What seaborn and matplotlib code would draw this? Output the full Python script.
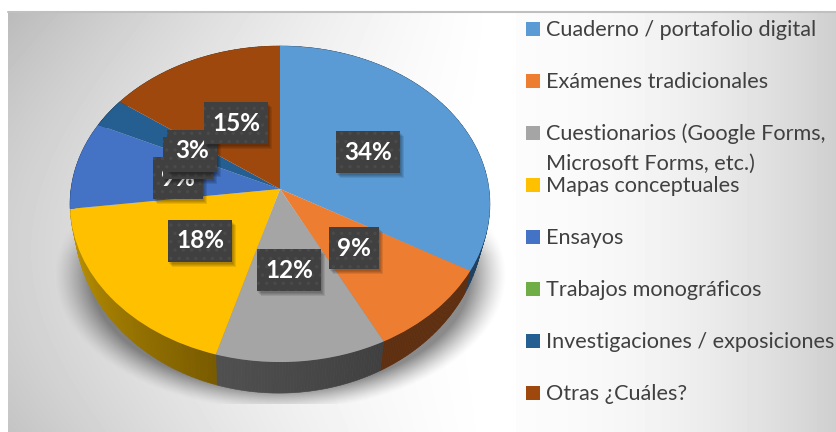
# coding: utf-8
import numpy as np
import seaborn as sns
import matplotlib.pyplot as plt
from matplotlib.patches import Rectangle
from matplotlib.transforms import Transform
from matplotlib.colors import to_rgb

categories = ["Cuaderno / portafolio digital", "Exámenes tradicionales",
              "Cuestionarios (Google Forms,\nMicrosoft Forms, etc.)", "Mapas conceptuales",
              "Ensayos", "Trabajos monográficos", "Investigaciones / exposiciones", "Otras ¿Cuáles?"]
# printed percentages, and the slice sizes as measured on the drawn disc
percents = [34, 9, 12, 18, 9, 0, 3, 15]
shares = [33.3, 9.2, 12.0, 18.5, 9, 0, 3, 15]
colors = ["#5B9BD5", "#ED7D31", "#A5A5A5", "#FFC000", "#4472C4", "#70AD47", "#255E91", "#9E480E"]
wall_left = ["#1F3F5F", "#5F2F10", "#505050", "#C89A00", "#2A4A80", "#466C2C", "#163A5A", "#5F2C08"]
wall_right = ["#1F3F5F", "#5F2F10", "#404040", "#7A5C00", "#2A4A80", "#466C2C", "#163A5A", "#5F2C08"]

# label box centres, in the picture's pixels
label_x = [368, 354, 289, 200, 178, 188, 192, 236]
label_y = [152, 247.5, 269.5, 240.5, 178, 158, 150.5, 123]
label_w = [64, 50, 64, 64, 50, 50, 50, 64]
legend_y = [29, 81, 133, 185, 237, 289, 341, 393]

sns.set_theme(style="white")
plt.rcParams["font.family"] = ["Lato", "DejaVu Sans"]
plt.rcParams["hatch.linewidth"] = 1.2


def project(X, Y):
    # tilted disc seen in perspective, the near edge is bigger
    d = 1 + 0.095 * Y
    return 280 + 209 * X / d, 189 - 156.6 * Y / d


def lower(x, y):
    return 279 + 0.975 * (x - 280), 205 + 1.087 * (y - 189)


class Tilt(Transform):
    input_dims = 2
    output_dims = 2

    def transform_non_affine(self, values):
        x, y = project(values[:, 0], values[:, 1])
        return np.column_stack([x, y])


fig = plt.figure(figsize=(8.37, 4.32), dpi=100)
ax = fig.add_axes([0, 0, 1, 1])

# background, white in the middle and a small step at x=516
xx, yy = np.meshgrid(np.arange(8, 837), np.arange(12, 432))
xl = np.clip((500 - xx) / 490.0, 0, 1)
xr = np.clip((xx - 516) / 321.0, 0, 1)
bg = 1 - 0.18 * xl ** 1.6 - 0.05 * xl * (np.abs(yy - 250) / 180.0) ** 2
bg = np.where(xx >= 516, 0.985 - 0.175 * xr ** 2.0, bg)
ax.imshow(bg, cmap="gray", vmin=0, vmax=1, extent=(8, 837, 432, 12), zorder=0, aspect="auto")
ax.plot([8, 837], [11.5, 11.5], color="#C0C0C0", lw=1.5, zorder=1)

# soft shadow under the disc, cut hard at the bottom
sx, sy = np.meshgrid(np.arange(40, 525), np.arange(190, 404))
d = np.sqrt(((sx - 280) / 226.0) ** 2 + ((sy - 275) / 135.0) ** 2)
shadow = np.clip((1 - d) / 0.16, 0, 1) ** 1.3 * np.clip((sy - 195) / 60.0, 0, 1)
rgba = np.zeros(shadow.shape + (4,))
rgba[..., :3] = 0.3
rgba[..., 3] = 0.65 * shadow
ax.imshow(rgba, extent=(40, 525, 404, 190), zorder=1, aspect="auto")

wedges, _ = ax.pie(shares, colors=sns.color_palette(colors), startangle=90, counterclock=False,
                   wedgeprops=dict(linewidth=0))

for i, w in enumerate(wedges):
    w.set_transform(Tilt() + ax.transData)
    w.set_zorder(4)
    # side wall as thin strips so the shade can change along the rim
    if shares[i] == 0:
        continue
    th = np.radians(np.linspace(w.theta1, w.theta2, 60))
    tx, ty = project(np.cos(th), np.sin(th))
    bx, by = lower(tx, ty)
    c0, c1 = np.array(to_rgb(wall_left[i])), np.array(to_rgb(wall_right[i]))
    for j in range(len(th) - 1):
        f = j / (len(th) - 2)
        col = c0 * f + c1 * (1 - f) if tx[0] > tx[-1] else c1 * f + c0 * (1 - f)
        ax.fill([tx[j], tx[j + 1], bx[j + 1], bx[j]], [ty[j], ty[j + 1], by[j + 1], by[j]],
                color=col, lw=0.4, zorder=3)

# data labels
for i, v in enumerate(percents):
    z = 6 + i * 0.1
    x0 = label_x[i] - label_w[i] / 2
    y0 = label_y[i] - 21
    for k in (5, 4, 3, 2):
        ax.add_patch(Rectangle((x0 + k - 1, y0 + k), label_w[i], 42, color="black", alpha=0.09, lw=0, zorder=z))
    ax.add_patch(Rectangle((x0, y0), label_w[i], 42, facecolor="#404040", edgecolor="#4A4A4A", hatch="..",
                           lw=0, zorder=z + 0.01))
    ax.text(label_x[i], label_y[i] + 0.5, f"{v}%", color="white", fontsize=17.5, fontweight="bold",
            ha="center", va="center", zorder=z + 0.02)

# legend
for i, name in enumerate(categories):
    ax.add_patch(Rectangle((526, legend_y[i] - 7), 14, 14, color=colors[i], lw=0, zorder=5))
    for n, line in enumerate(name.split("\n")):
        ax.text(546, legend_y[i] + 1 + 30 * n, line, color="#404040", fontsize=15.6, ha="left", va="center", zorder=5)

ax.set_xlim(0, 837)
ax.set_ylim(432, 0)
ax.set_aspect("auto")
ax.axis("off")
plt.savefig("out.png", dpi=100)
